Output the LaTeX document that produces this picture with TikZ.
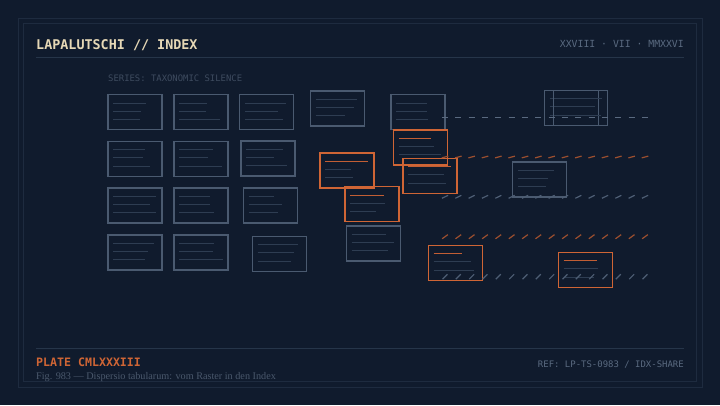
\documentclass[tikz,border=0pt]{standalone}
\usepackage{fontspec}
\setmainfont{Liberation Serif}
\newfontfamily\monofont{DejaVu Sans Mono}
\definecolor{bg}{HTML}{101B2D}
\definecolor{frameC}{HTML}{1E2B3F}
\definecolor{sepC}{HTML}{263549}
\definecolor{cream}{HTML}{E6D8B6}
\definecolor{greyT}{HTML}{5A6A80}
\definecolor{dimT}{HTML}{3E4B5F}
\definecolor{capT}{HTML}{4A586C}
\definecolor{cardG}{HTML}{4A5A70}
\definecolor{lineG}{HTML}{2E3D52}
\definecolor{orangeC}{HTML}{CF6535}
\definecolor{orangeL}{HTML}{C25E34}
\definecolor{orangeD}{HTML}{9C4F2F}
\definecolor{strkG}{HTML}{4E5E74}
\tikzset{
  cardg/.style={draw=cardG, line width=1.1pt, minimum width=54pt, minimum height=35pt, inner sep=0pt, outer sep=0pt, anchor=north west},
  cardo/.style={cardg, draw=orangeC, line width=1.3pt},
  clg/.style={draw=lineG, line width=0.9pt},
  clo/.style={draw=orangeL, line width=1.2pt},
  strk/.style={line width=1.2pt},
  frameline/.style={draw=frameC, line width=0.9pt},
  sepline/.style={draw=sepC, line width=0.8pt},
  lbl/.style={inner sep=0pt, anchor=base west},
}
\newcommand\mkcard[7]{%
  \node[card#4] (#1) at (#2,#3) {};
  \draw[cl#4] ([xshift=5.3pt,yshift=-8.5pt]#1.north west) -- ++(#5,0);
  \draw[clg] ([xshift=5.3pt,yshift=-16.6pt]#1.north west) -- ++(#6,0);
  \draw[clg] ([xshift=5.3pt,yshift=-24.7pt]#1.north west) -- ++(#7,0);
}
\newcommand\mkrow[4]{% y, angle, color, half length
  \foreach \k in {0,...,15}{
    \draw[strk,#3] ({445+13.333*\k},#1) ++(180+#2:#4) -- ++(#2:2*#4);
  }
}
\begin{document}
\begin{tikzpicture}[x=1pt,y=-1pt]
\fill[bg] (0,0) rectangle (720,405);
\useasboundingbox (0,0) rectangle (720,405);
% frames
\draw[frameline] (18,18) rectangle (702,387);
\draw[frameline] (23.3,23.3) rectangle (696.3,381.3);
\draw[sepline] (36,57) -- (684,57);
\draw[sepline] (36,348) -- (684,348);
% header
\node[lbl, text=cream, font=\monofont\bfseries\fontsize{13.4}{14}\selectfont] (title) at (36,49) {LAPALUTSCHI // INDEX};
\node[lbl, anchor=base east, text=greyT, font=\monofont\fontsize{9.8}{11}\selectfont] (date) at (684,47.5) {XXVIII · VII · MMXXVI};
\node[lbl, text=dimT, font=\monofont\fontsize{8.9}{10}\selectfont] (series) at (108,81) {SERIES: TAXONOMIC SILENCE};
% grid cards
\mkcard{g1}{108}{94.5}{g}{33}{28}{27}
\mkcard{g2}{174}{94.5}{g}{28}{27}{40.7}
\mkcard{g3}{239.5}{94.5}{g}{41}{32.7}{38.3}
\mkcard{g4}{108}{141.3}{g}{32}{29.7}{36.7}
\mkcard{g5}{174}{141.3}{g}{33.3}{29}{43}
\mkcard{g6}{241}{141}{g}{37}{27.7}{41}
\mkcard{g7}{108}{188}{g}{42.7}{36.7}{42.3}
\mkcard{g8}{174}{188}{g}{31}{30.3}{34.3}
\mkcard{g9}{243.3}{188}{g}{25.7}{33}{29.3}
\mkcard{g10}{108}{235}{g}{40.3}{35}{31.3}
\mkcard{g11}{174}{235}{g}{35}{34}{43.7}
\mkcard{g12}{252.3}{236.3}{g}{40.3}{36.3}{33.7}
% scattered grey cards
\mkcard{gA}{310.3}{91}{g}{41.3}{38.7}{29.3}
\mkcard{gB}{391}{94.7}{g}{31}{30.7}{31.7}
\mkcard{gG}{346.3}{226}{g}{34}{42}{36.3}
\mkcard{gJa}{544.3}{90.3}{g}{40}{38}{40}
\mkcard{gJb}{553.3}{90.3}{g}{43.7}{36.7}{42.7}
\mkcard{gK}{512.7}{162}{g}{36.3}{29.7}{28}
% orange cards
\mkcard{oC}{393.7}{130}{o}{32}{34.7}{41.7}
\mkcard{oD}{320}{153}{o}{43}{26}{27.7}
\mkcard{oE}{403}{158.3}{o}{42.7}{36}{38}
\mkcard{oF}{345}{186.7}{o}{34}{34.7}{26}
\mkcard{oH}{428.3}{245.3}{o}{28.7}{37.3}{40}
\mkcard{oI}{558.3}{252.3}{o}{33.7}{34.3}{30}
% stroke rows
\mkrow{117.3}{0}{greyT}{3pt}
\mkrow{157}{15}{orangeD}{3.4pt}
\mkrow{196.8}{26}{strkG}{3.4pt}
\mkrow{236.7}{36}{orangeD}{3.5pt}
\mkrow{276.7}{45}{strkG}{3.5pt}
% footer
\node[lbl, text=orangeC, font=\monofont\bfseries\fontsize{11.6}{13}\selectfont] (plate) at (36,366.7) {PLATE CMLXXXIII};
\node[lbl, text=capT, font=\fontsize{10.2}{11}\selectfont] (caption) at (36,379) {Fig. 983 — Dispersio tabularum: vom Raster in den Index};
\node[lbl, anchor=base east, text=greyT, font=\monofont\fontsize{8.97}{10}\selectfont] (ref) at (684,367.3) {REF: LP-TS-0983 / IDX-SHARE};
\end{tikzpicture}
\end{document}
